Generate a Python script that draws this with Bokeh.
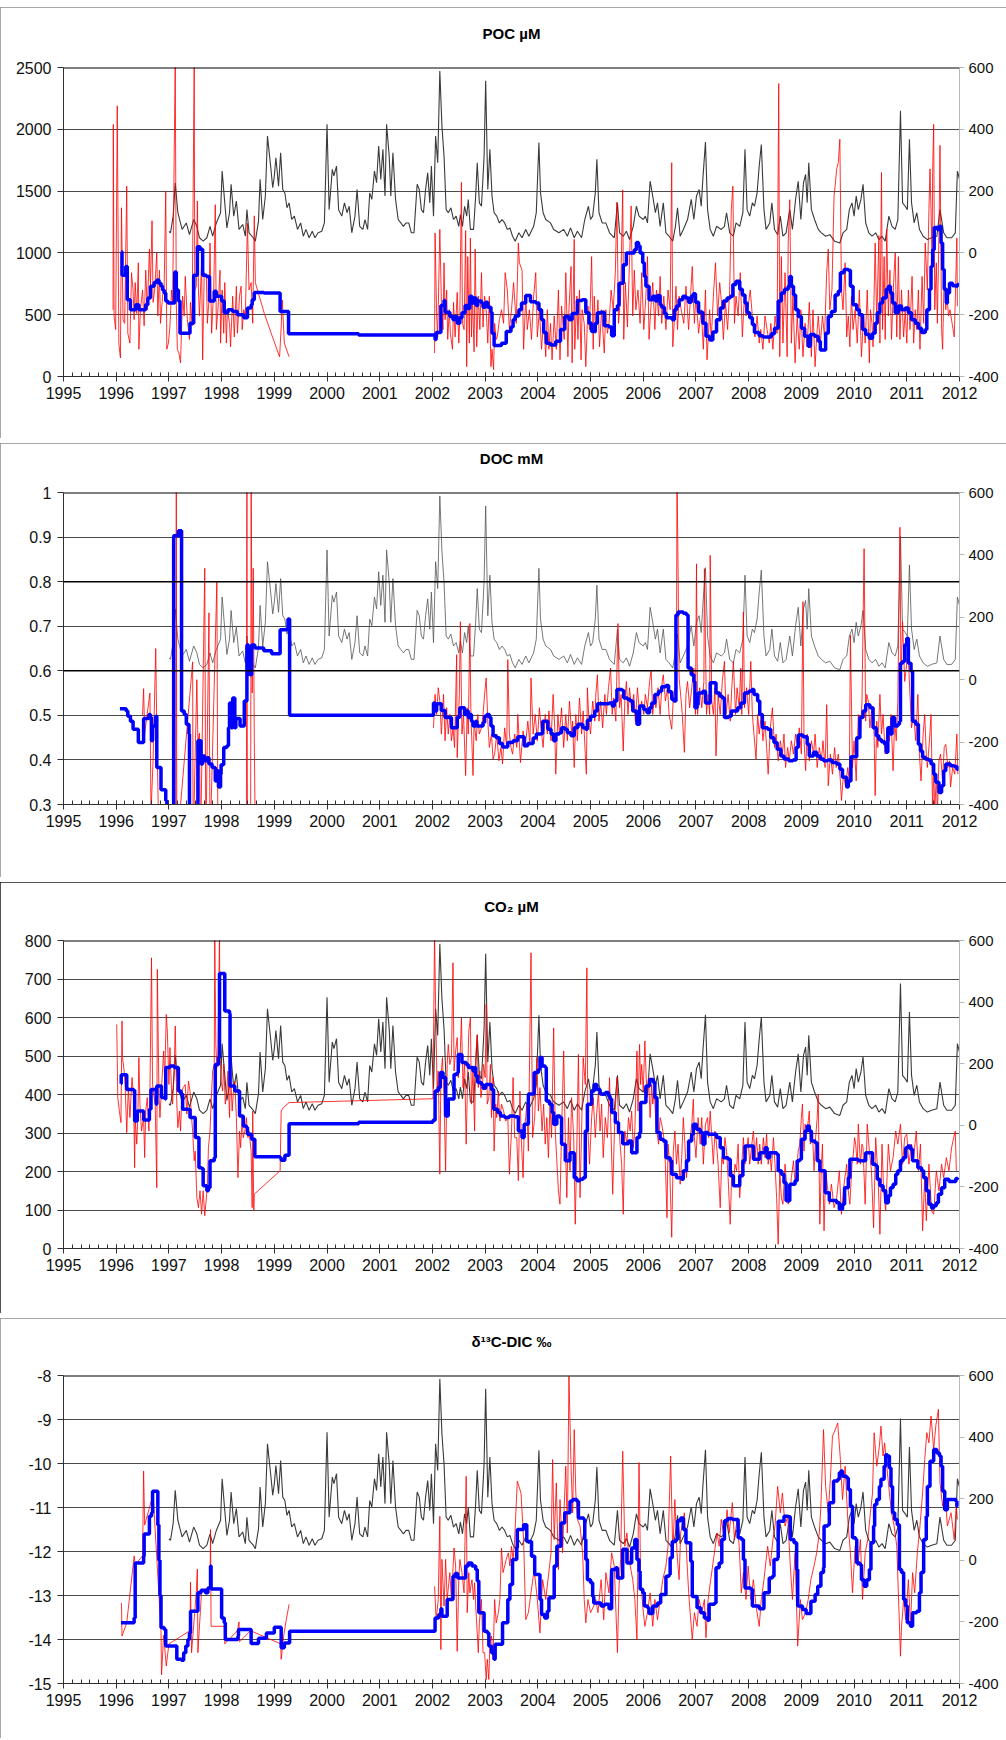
import math
from bokeh.plotting import figure
from bokeh.models import (Range1d, LinearAxis, SingleIntervalTicker, FixedTicker, Title,
                          CustomJSTickFormatter, Span, Spacer)
from bokeh.layouts import column
from bokeh.embed import file_html
from bokeh.resources import INLINE

nan = float("nan")

# ---------------- data (year, value) ----------------
# grey series on the right axis (shared by all four panels)
q_series = [
    (1997.00, 70), (1997.03, 65), (1997.08, 119), (1997.12, 227), (1997.17, 130), (1997.25, 76), (1997.33, 97),
    (1997.39, 59), (1997.47, 108), (1997.53, 86), (1997.58, 49), (1997.65, 38), (1997.72, 49), (1997.78, 86),
    (1997.83, 54), (1997.90, 97), (1997.98, 130), (1998.01, 265), (1998.06, 162), (1998.10, 81), (1998.15, 130),
    (1998.18, 222), (1998.23, 119), (1998.28, 168), (1998.33, 76), (1998.40, 92), (1998.45, 54), (1998.48, 140),
    (1998.52, 65), (1998.60, 49), (1998.64, 38), (1998.70, 103), (1998.73, 238), (1998.78, 108), (1998.83, 184),
    (1998.87, 378), (1998.93, 281), (1998.97, 211), (1999.00, 249), (1999.03, 308), (1999.08, 216), (1999.12, 324),
    (1999.16, 205), (1999.20, 194), (1999.24, 146), (1999.28, 162), (1999.33, 108), (1999.38, 119), (1999.44, 76),
    (1999.50, 97), (1999.55, 54), (1999.60, 76), (1999.66, 49), (1999.72, 70), (1999.77, 49), (1999.83, 65),
    (1999.90, 70), (1999.95, 97), (2000.00, 416), (2000.04, 140), (2000.10, 270), (2000.13, 249), (2000.18, 281),
    (2000.22, 140), (2000.28, 119), (2000.33, 162), (2000.38, 130), (2000.42, 151), (2000.47, 65), (2000.53, 119),
    (2000.57, 205), (2000.62, 86), (2000.68, 76), (2000.72, 108), (2000.77, 76), (2000.81, 194), (2000.85, 173),
    (2000.90, 265), (2000.94, 227), (2000.98, 346), (2001.02, 238), (2001.06, 335), (2001.10, 184), (2001.13, 416),
    (2001.18, 313), (2001.21, 184), (2001.25, 324), (2001.30, 173), (2001.35, 108), (2001.40, 97), (2001.45, 86),
    (2001.50, 97), (2001.55, 97), (2001.60, 65), (2001.65, 65), (2001.71, 222), (2001.75, 205), (2001.79, 140),
    (2001.83, 130), (2001.87, 205), (2001.91, 259), (2001.95, 162), (2001.98, 281), (2002.02, 119), (2002.06, 378),
    (2002.10, 292), (2002.14, 589), (2002.18, 411), (2002.22, 313), (2002.26, 140), (2002.30, 130), (2002.35, 146),
    (2002.40, 108), (2002.45, 119), (2002.50, 86), (2002.53, 124), (2002.57, 86), (2002.61, 151), (2002.65, 119),
    (2002.68, 173), (2002.72, 76), (2002.78, 76), (2002.82, 184), (2002.85, 292), (2002.89, 162), (2002.93, 151),
    (2002.98, 313), (2003.01, 557), (2003.05, 205), (2003.09, 335), (2003.13, 184), (2003.17, 130), (2003.22, 119),
    (2003.27, 97), (2003.32, 108), (2003.37, 97), (2003.42, 76), (2003.47, 81), (2003.52, 54), (2003.57, 38),
    (2003.64, 65), (2003.70, 49), (2003.77, 76), (2003.83, 54), (2003.92, 86), (2003.97, 130), (2004.02, 357),
    (2004.05, 195), (2004.10, 130), (2004.15, 108), (2004.24, 97), (2004.30, 76), (2004.40, 65), (2004.49, 76),
    (2004.56, 54), (2004.62, 81), (2004.69, 49), (2004.75, 70), (2004.83, 49), (2004.89, 108), (2004.96, 151),
    (2005.00, 108), (2005.04, 119), (2005.09, 195), (2005.12, 303), (2005.16, 130), (2005.22, 97), (2005.29, 97),
    (2005.36, 65), (2005.45, 49), (2005.51, 162), (2005.55, 65), (2005.62, 54), (2005.68, 70), (2005.74, 43),
    (2005.81, 86), (2005.87, 151), (2005.92, 119), (2006.00, 108), (2006.04, 119), (2006.08, 97), (2006.13, 232),
    (2006.18, 184), (2006.23, 130), (2006.27, 162), (2006.32, 86), (2006.38, 162), (2006.43, 65), (2006.49, 54),
    (2006.56, 38), (2006.61, 86), (2006.65, 146), (2006.70, 54), (2006.76, 76), (2006.84, 108), (2006.91, 173),
    (2006.96, 108), (2007.01, 184), (2007.06, 205), (2007.10, 151), (2007.13, 238), (2007.18, 359), (2007.22, 140),
    (2007.27, 76), (2007.33, 54), (2007.39, 86), (2007.48, 76), (2007.54, 86), (2007.58, 130), (2007.64, 65),
    (2007.71, 54), (2007.76, 97), (2007.83, 86), (2007.89, 130), (2007.93, 335), (2007.97, 140), (2008.02, 119),
    (2008.07, 162), (2008.11, 151), (2008.16, 195), (2008.20, 281), (2008.24, 351), (2008.29, 140), (2008.33, 76),
    (2008.40, 97), (2008.44, 162), (2008.49, 76), (2008.55, 59), (2008.60, 119), (2008.65, 54), (2008.71, 65),
    (2008.78, 140), (2008.83, 76), (2008.89, 173), (2008.94, 232), (2008.99, 108), (2009.04, 227), (2009.08, 254),
    (2009.11, 162), (2009.14, 292), (2009.19, 140), (2009.25, 108), (2009.32, 76), (2009.38, 65), (2009.46, 54),
    (2009.54, 59), (2009.63, 38), (2009.73, 32), (2009.79, 65), (2009.86, 76), (2009.91, 140), (2009.96, 162),
    (2010.00, 119), (2010.04, 184), (2010.08, 140), (2010.13, 173), (2010.17, 222), (2010.22, 97), (2010.28, 65),
    (2010.34, 54), (2010.41, 65), (2010.47, 43), (2010.53, 54), (2010.59, 38), (2010.66, 119), (2010.72, 86),
    (2010.78, 76), (2010.83, 108), (2010.88, 460), (2010.92, 162), (2010.97, 151), (2011.01, 140), (2011.05, 368),
    (2011.09, 162), (2011.14, 97), (2011.19, 130), (2011.24, 76), (2011.31, 54), (2011.39, 43), (2011.47, 49),
    (2011.57, 54), (2011.63, 140), (2011.70, 65), (2011.76, 49), (2011.85, 49), (2011.92, 65), (2011.96, 265),
    (2012.00, 238),
]

# POC (µM): raw values (red) and running mean (blue)
poc_raw = [
    (1995.94, 540), (1995.945, 2040), (1995.96, 490), (1995.99, 380), (1996.02, 2190), (1996.05, 270), (1996.08, 150),
    (1996.10, 1365), (1996.13, 460), (1996.16, 430), (1996.20, 1540), (1996.22, 350), (1996.26, 270), (1996.29, 840),
    (1996.32, 700), (1996.34, 460), (1996.36, 760), (1996.39, 510), (1996.42, 920), (1996.43, 220), (1996.46, 540),
    (1996.50, 700), (1996.53, 410), (1996.56, 860), (1996.59, 540), (1996.63, 1030), (1996.65, 730), (1996.68, 1260),
    (1996.70, 600), (1996.73, 700), (1996.77, 1000), (1996.79, 490), (1996.82, 860), (1996.84, 430), (1996.88, 650),
    (1996.91, 730), (1996.94, 1500), (1996.96, 220), (1996.99, 270), (1997.02, 410), (1997.05, 700), (1997.07, 600),
    (1997.12, 2550), (1997.14, 600), (1997.16, 220), (1997.19, 190), (1997.22, 110), (1997.26, 650), (1997.29, 490),
    (1997.31, 810), (1997.35, 460), (1997.39, 300), (1997.41, 600), (1997.44, 410), (1997.48, 2550), (1997.49, 700),
    (1997.52, 730), (1997.54, 1420), (1997.56, 700), (1997.58, 490), (1997.62, 920), (1997.64, 135), (1997.67, 840),
    (1997.71, 810), (1997.73, 430), (1997.76, 620), (1997.78, 1080), (1997.81, 350), (1997.85, 700), (1997.88, 1390),
    (1997.90, 380), (1997.93, 540), (1997.97, 860), (1997.98, 270), (1998.01, 700), (1998.04, 350), (1998.06, 760),
    (1998.09, 270), (1998.11, 540), (1998.15, 430), (1998.17, 240), (1998.21, 650), (1998.24, 320), (1998.28, 730),
    (1998.30, 350), (1998.34, 650), (1998.37, 730), (1998.39, 380), (1998.42, 540), (1998.45, 490), (1998.49, 1240),
    (1998.52, 700), (1998.56, 760), (1998.59, 430), (1998.62, 1300), (1998.64, 760), (1998.68, 700), (1998.81, 510),
    (1998.94, 350), (1999.10, 160), (1999.13, 400), (1999.15, 620), (1999.19, 270), (1999.28, 160), (1999.30, nan),
    (2002.04, 190), (2002.05, 1160), (2002.08, 490), (2002.10, 320), (2002.14, 1190), (2002.17, 600), (2002.20, 380),
    (2002.22, 920), (2002.24, 460), (2002.27, 700), (2002.29, 300), (2002.32, 540), (2002.34, 350), (2002.38, 220),
    (2002.40, 600), (2002.43, 320), (2002.47, 680), (2002.50, 270), (2002.52, 490), (2002.55, 1570), (2002.57, 430),
    (2002.60, 380), (2002.63, 1180), (2002.65, 80), (2002.67, 970), (2002.70, 270), (2002.72, 1120), (2002.74, 320),
    (2002.76, 650), (2002.79, 200), (2002.81, 1030), (2002.84, 240), (2002.87, 650), (2002.90, 380), (2002.93, 840),
    (2002.96, 400), (2002.99, 650), (2003.02, 540), (2003.05, 270), (2003.08, 650), (2003.11, 80), (2003.13, 220),
    (2003.16, 55), (2003.18, 430), (2003.21, 300), (2003.23, 320), (2003.27, 460), (2003.31, 540), (2003.35, 430),
    (2003.38, 840), (2003.42, 700), (2003.46, 380), (2003.50, 540), (2003.54, 760), (2003.59, 430), (2003.63, 1080),
    (2003.65, 920), (2003.70, 860), (2003.73, 220), (2003.77, 650), (2003.80, 380), (2003.84, 540), (2003.88, 300),
    (2003.92, 650), (2003.96, 840), (2003.99, 320), (2004.03, 540), (2004.07, 220), (2004.11, 460), (2004.15, 160),
    (2004.18, 540), (2004.21, 220), (2004.24, 430), (2004.27, 135), (2004.31, 490), (2004.35, 220), (2004.39, 700),
    (2004.42, 135), (2004.45, 570), (2004.50, 300), (2004.53, 840), (2004.57, 160), (2004.59, 540), (2004.63, 890),
    (2004.65, 110), (2004.69, 1110), (2004.70, 220), (2004.74, 650), (2004.76, 300), (2004.79, 700), (2004.82, 135),
    (2004.84, 540), (2004.88, 430), (2004.91, 80), (2004.95, 570), (2004.98, 380), (2005.02, 970), (2005.05, 220),
    (2005.07, 650), (2005.10, 350), (2005.14, 620), (2005.17, 240), (2005.21, 540), (2005.26, 190), (2005.29, 540),
    (2005.32, 350), (2005.35, 430), (2005.39, 700), (2005.43, 540), (2005.47, 840), (2005.50, 1410), (2005.53, 430),
    (2005.57, 650), (2005.61, 1510), (2005.63, 300), (2005.66, 760), (2005.70, 400), (2005.73, 810), (2005.77, 1380),
    (2005.80, 490), (2005.83, 860), (2005.86, 540), (2005.90, 700), (2005.94, 430), (2005.97, 840), (2006.01, 380),
    (2006.05, 650), (2006.08, 970), (2006.11, 300), (2006.15, 600), (2006.18, 760), (2006.22, 380), (2006.25, 700),
    (2006.29, 490), (2006.32, 810), (2006.35, 430), (2006.39, 650), (2006.43, 380), (2006.47, 700), (2006.51, 540),
    (2006.54, 1730), (2006.56, 240), (2006.59, 460), (2006.62, 730), (2006.65, 380), (2006.68, 650), (2006.72, 540),
    (2006.77, 430), (2006.81, 730), (2006.86, 380), (2006.89, 600), (2006.93, 890), (2006.97, 430), (2007.00, 650),
    (2007.05, 350), (2007.10, 540), (2007.14, 220), (2007.18, 700), (2007.21, 135), (2007.26, 540), (2007.29, 300),
    (2007.33, 650), (2007.37, 920), (2007.41, 490), (2007.45, 760), (2007.48, 620), (2007.52, 300), (2007.56, 600),
    (2007.60, 380), (2007.64, 700), (2007.67, 1350), (2007.70, 1540), (2007.73, 430), (2007.76, 650), (2007.80, 490),
    (2007.84, 840), (2007.88, 320), (2007.92, 650), (2007.95, 490), (2007.99, 570), (2008.03, 700), (2008.08, 430),
    (2008.12, 320), (2008.16, 490), (2008.20, 270), (2008.23, 380), (2008.27, 220), (2008.31, 490), (2008.35, 380),
    (2008.39, 270), (2008.42, 430), (2008.46, 220), (2008.50, 490), (2008.54, 350), (2008.57, 2370), (2008.59, 160),
    (2008.62, 970), (2008.65, 270), (2008.69, 840), (2008.73, 160), (2008.75, 1080), (2008.78, 1430), (2008.81, 270),
    (2008.84, 650), (2008.88, 110), (2008.92, 490), (2008.96, 220), (2008.99, 540), (2009.03, 160), (2009.07, 430),
    (2009.11, 240), (2009.15, 600), (2009.19, 160), (2009.22, 540), (2009.26, 80), (2009.29, 320), (2009.32, 490),
    (2009.36, 270), (2009.40, 490), (2009.44, 320), (2009.48, 840), (2009.51, 1030), (2009.54, 540), (2009.58, 700),
    (2009.62, 1460), (2009.64, 1540), (2009.67, 1680), (2009.70, 1730), (2009.73, 1920), (2009.76, 700), (2009.79, 540),
    (2009.83, 920), (2009.86, 320), (2009.89, 490), (2009.92, 240), (2009.95, 650), (2009.98, 380), (2010.02, 540),
    (2010.06, 270), (2010.10, 700), (2010.14, 160), (2010.18, 490), (2010.21, 270), (2010.25, 700), (2010.29, 110),
    (2010.31, 540), (2010.34, 430), (2010.36, 240), (2010.40, 1080), (2010.43, 430), (2010.47, 1140), (2010.49, 270),
    (2010.52, 1650), (2010.54, 380), (2010.57, 970), (2010.59, 300), (2010.62, 1190), (2010.65, 490), (2010.68, 860),
    (2010.71, 300), (2010.75, 760), (2010.78, 1000), (2010.81, 320), (2010.84, 970), (2010.87, 300), (2010.90, 700),
    (2010.94, 320), (2010.97, 540), (2011.00, 270), (2011.03, 700), (2011.06, 380), (2011.10, 810), (2011.13, 270),
    (2011.16, 540), (2011.19, 380), (2011.22, 700), (2011.25, 220), (2011.29, 810), (2011.32, 430), (2011.35, 1080),
    (2011.39, 700), (2011.42, 1350), (2011.44, 1680), (2011.48, 970), (2011.49, 1650), (2011.51, 2040), (2011.53, 540),
    (2011.56, 920), (2011.58, 430), (2011.61, 1140), (2011.63, 1870), (2011.66, 380), (2011.68, 220), (2011.71, 840),
    (2011.74, 540), (2011.76, 700), (2011.79, 490), (2011.82, 540), (2011.86, 430), (2011.90, 320), (2011.92, 620),
    (2011.95, 1120), (2011.96, 570),
]
poc_avg = [
    (1996.10, 1010), (1996.11, 820), (1996.18, 890), (1996.21, 620), (1996.27, 540), (1996.37, 580), (1996.43, 540),
    (1996.56, 580), (1996.60, 635), (1996.65, 730), (1996.72, 760), (1996.77, 780), (1996.81, 755), (1996.85, 730),
    (1996.88, 700), (1996.91, 675), (1996.94, 610), (1996.98, 595), (1997.11, 845), (1997.14, 700), (1997.18, 610),
    (1997.21, 350), (1997.40, 430), (1997.47, 820), (1997.54, 1050), (1997.59, 1030), (1997.64, 820), (1997.71, 810),
    (1997.77, 610), (1997.86, 690), (1997.90, 650), (1998.00, 610), (1998.05, 515), (1998.12, 540), (1998.21, 525),
    (1998.30, 500), (1998.42, 475), (1998.49, 555), (1998.56, 580), (1998.58, 620), (1998.62, 680), (1998.80, 675),
    (1999.11, 525), (1999.27, 345), (2000.60, 335), (2002.04, 325), (2002.05, 300), (2002.07, 355), (2002.16, 575),
    (2002.22, 615), (2002.24, 520), (2002.33, 485), (2002.39, 460), (2002.42, 485), (2002.47, 430), (2002.52, 475),
    (2002.56, 515), (2002.62, 575), (2002.67, 550), (2002.71, 650), (2002.75, 595), (2002.79, 635), (2002.83, 575),
    (2002.86, 610), (2002.93, 595), (2002.96, 560), (2003.01, 600), (2003.05, 560), (2003.11, 520), (2003.13, 350),
    (2003.17, 250), (2003.31, 270), (2003.40, 365), (2003.49, 400), (2003.53, 460), (2003.57, 490), (2003.64, 540),
    (2003.69, 595), (2003.77, 655), (2003.86, 605), (2003.96, 595), (2004.02, 540), (2004.07, 460), (2004.11, 355),
    (2004.16, 270), (2004.24, 255), (2004.34, 285), (2004.43, 380), (2004.51, 485), (2004.59, 460), (2004.65, 510),
    (2004.75, 615), (2004.84, 620), (2004.91, 515), (2004.97, 430), (2005.02, 365), (2005.09, 430), (2005.13, 515),
    (2005.19, 520), (2005.26, 410), (2005.35, 400), (2005.40, 330), (2005.45, 540), (2005.51, 575), (2005.54, 755),
    (2005.62, 905), (2005.68, 1000), (2005.83, 1025), (2005.87, 1085), (2005.91, 1055), (2005.94, 1000),
    (2005.99, 920), (2006.02, 810), (2006.05, 730), (2006.11, 620), (2006.18, 650), (2006.23, 610), (2006.27, 655),
    (2006.32, 580), (2006.35, 560), (2006.40, 510), (2006.44, 475), (2006.55, 460), (2006.59, 540), (2006.63, 570),
    (2006.68, 620), (2006.75, 650), (2006.81, 635), (2006.86, 600), (2006.91, 650), (2006.95, 670), (2006.99, 600),
    (2007.05, 520), (2007.13, 430), (2007.19, 325), (2007.26, 295), (2007.32, 360), (2007.39, 460), (2007.46, 555),
    (2007.52, 610), (2007.59, 635), (2007.65, 650), (2007.70, 745), (2007.76, 770), (2007.83, 705), (2007.88, 660),
    (2007.93, 595), (2007.97, 515), (2008.02, 475), (2008.07, 420), (2008.11, 355), (2008.20, 330), (2008.27, 320),
    (2008.43, 345), (2008.49, 390), (2008.56, 610), (2008.62, 675), (2008.68, 705), (2008.75, 730), (2008.78, 810),
    (2008.81, 730), (2008.85, 660), (2008.89, 540), (2008.94, 485), (2009.00, 390), (2009.06, 325), (2009.13, 245),
    (2009.17, 340), (2009.25, 325), (2009.32, 285), (2009.36, 215), (2009.46, 350), (2009.51, 485), (2009.57, 525),
    (2009.64, 660), (2009.70, 690), (2009.74, 840), (2009.81, 865), (2009.89, 860), (2009.93, 730), (2009.98, 580),
    (2010.05, 540), (2010.10, 500), (2010.16, 380), (2010.22, 340), (2010.29, 310), (2010.35, 350), (2010.40, 430),
    (2010.44, 515), (2010.49, 595), (2010.54, 635), (2010.61, 705), (2010.65, 730), (2010.69, 675), (2010.73, 595),
    (2010.78, 515), (2010.84, 570), (2010.90, 540), (2010.97, 555), (2011.03, 515), (2011.09, 460), (2011.16, 430),
    (2011.22, 390), (2011.28, 355), (2011.35, 380), (2011.38, 540), (2011.43, 705), (2011.46, 890), (2011.49, 1025),
    (2011.52, 1205), (2011.58, 1190), (2011.62, 1215), (2011.65, 1080), (2011.68, 865), (2011.71, 705),
    (2011.75, 595), (2011.77, 675), (2011.81, 755), (2011.87, 735), (2011.94, 730), (2011.96, 745), (2011.98, 740),
]

# DOC (mM)
doc_raw = [
    (1996.50, 0.50), (1996.52, 0.56), (1996.54, 0.46), (1996.64, 0.55), (1996.66, 0.28), (1996.70, 0.40),
    (1996.75, 0.65), (1996.77, 0.47), (1996.80, 0.28), (1997.13, 0.20), (1997.14, 1.05), (1997.15, 0.20),
    (1997.45, 0.62), (1997.46, 0.20), (1997.53, 0.58), (1997.55, 0.44), (1997.58, 0.46), (1997.60, 0.20),
    (1997.68, 0.83), (1997.70, 0.20), (1997.76, 0.73), (1997.78, 0.20), (1997.91, 0.80), (1997.93, 0.20),
    (1998.47, 0.20), (1998.48, 1.05), (1998.49, 0.20), (1998.55, 0.20), (1998.56, 1.05), (1998.58, 0.55),
    (1998.60, 0.83), (1998.62, 0.45), (1998.64, 0.20), (1998.70, nan),
    (2002.02, 0.472), (2002.05, 0.547), (2002.08, 0.502), (2002.11, 0.562), (2002.14, 0.532), (2002.17, 0.458),
    (2002.21, 0.547), (2002.24, 0.443), (2002.27, 0.517), (2002.30, 0.458), (2002.33, 0.502), (2002.36, 0.443),
    (2002.39, 0.472), (2002.42, 0.428), (2002.46, 0.636), (2002.47, 0.405), (2002.51, 0.547), (2002.53, 0.710),
    (2002.56, 0.458), (2002.59, 0.502), (2002.63, 0.365), (2002.66, 0.517), (2002.68, 0.458), (2002.71, 0.706),
    (2002.73, 0.502), (2002.77, 0.365), (2002.79, 0.487), (2002.83, 0.443), (2002.86, 0.502), (2002.89, 0.458),
    (2002.93, 0.472), (2002.96, 0.502), (2002.99, 0.547), (2003.02, 0.584), (2003.05, 0.487), (2003.08, 0.428),
    (2003.12, 0.458), (2003.15, 0.402), (2003.18, 0.413), (2003.22, 0.458), (2003.26, 0.398), (2003.30, 0.428),
    (2003.33, 0.391), (2003.37, 0.472), (2003.41, 0.428), (2003.43, 0.625), (2003.46, 0.458), (2003.49, 0.428),
    (2003.52, 0.413), (2003.56, 0.458), (2003.60, 0.428), (2003.62, 0.502), (2003.67, 0.394), (2003.72, 0.465),
    (2003.76, 0.428), (2003.81, 0.487), (2003.85, 0.435), (2003.87, 0.584), (2003.91, 0.458), (2003.95, 0.502),
    (2003.99, 0.443), (2004.03, 0.517), (2004.06, 0.472), (2004.10, 0.428), (2004.14, 0.502), (2004.18, 0.458),
    (2004.21, 0.510), (2004.25, 0.443), (2004.29, 0.547), (2004.32, 0.472), (2004.34, 0.368), (2004.38, 0.502),
    (2004.41, 0.458), (2004.45, 0.517), (2004.49, 0.428), (2004.53, 0.502), (2004.56, 0.443), (2004.60, 0.532),
    (2004.64, 0.458), (2004.66, 0.487), (2004.69, 0.383), (2004.72, 0.502), (2004.75, 0.443), (2004.79, 0.539),
    (2004.83, 0.458), (2004.86, 0.510), (2004.90, 0.413), (2004.92, 0.368), (2004.94, 0.562), (2004.97, 0.487),
    (2005.00, 0.458), (2005.04, 0.532), (2005.08, 0.487), (2005.10, 0.547), (2005.13, 0.591), (2005.16, 0.487),
    (2005.19, 0.532), (2005.23, 0.472), (2005.27, 0.547), (2005.30, 0.502), (2005.34, 0.562), (2005.38, 0.606),
    (2005.41, 0.502), (2005.44, 0.539), (2005.48, 0.487), (2005.52, 0.706), (2005.55, 0.517), (2005.58, 0.547),
    (2005.62, 0.420), (2005.65, 0.532), (2005.68, 0.576), (2005.71, 0.502), (2005.74, 0.562), (2005.78, 0.510),
    (2005.82, 0.547), (2005.85, 0.487), (2005.89, 0.562), (2005.93, 0.502), (2005.97, 0.532), (2006.01, 0.502),
    (2006.04, 0.547), (2006.08, 0.517), (2006.12, 0.576), (2006.15, 0.602), (2006.18, 0.502), (2006.21, 0.547),
    (2006.24, 0.517), (2006.28, 0.562), (2006.32, 0.502), (2006.36, 0.576), (2006.38, 0.591), (2006.42, 0.532),
    (2006.46, 0.562), (2006.49, 0.502), (2006.54, 0.469), (2006.57, 0.539), (2006.61, 0.562), (2006.63, 0.606),
    (2006.64, 1.05), (2006.66, 0.833), (2006.68, 0.584), (2006.72, 0.532), (2006.74, 0.502), (2006.78, 0.417),
    (2006.81, 0.547), (2006.84, 0.576), (2006.88, 0.517), (2006.92, 0.562), (2006.96, 0.606), (2006.99, 0.502),
    (2007.01, 0.840), (2007.03, 0.502), (2007.07, 0.562), (2007.11, 0.517), (2007.15, 0.576), (2007.16, 0.829),
    (2007.20, 0.502), (2007.23, 0.547), (2007.26, 0.502), (2007.27, 0.859), (2007.30, 0.532), (2007.33, 0.502),
    (2007.36, 0.562), (2007.38, 0.409), (2007.42, 0.547), (2007.46, 0.502), (2007.50, 0.576), (2007.54, 0.621),
    (2007.57, 0.502), (2007.61, 0.547), (2007.65, 0.487), (2007.68, 0.562), (2007.71, 0.621), (2007.75, 0.502),
    (2007.78, 0.562), (2007.82, 0.517), (2007.85, 0.606), (2007.87, 0.502), (2007.90, 0.732), (2007.92, 0.517),
    (2007.96, 0.562), (2008.00, 0.502), (2008.04, 0.621), (2008.07, 0.502), (2008.10, 0.458), (2008.14, 0.402),
    (2008.17, 0.502), (2008.20, 0.458), (2008.24, 0.502), (2008.27, 0.443), (2008.31, 0.487), (2008.34, 0.428),
    (2008.37, 0.368), (2008.41, 0.472), (2008.45, 0.517), (2008.49, 0.428), (2008.52, 0.458), (2008.56, 0.398),
    (2008.60, 0.443), (2008.64, 0.413), (2008.67, 0.458), (2008.70, 0.383), (2008.74, 0.428), (2008.77, 0.398),
    (2008.81, 0.443), (2008.85, 0.413), (2008.89, 0.458), (2008.93, 0.428), (2008.96, 0.472), (2009.00, 0.413),
    (2009.03, 0.755), (2009.05, 0.443), (2009.08, 0.376), (2009.11, 0.458), (2009.15, 0.398), (2009.19, 0.443),
    (2009.23, 0.413), (2009.26, 0.458), (2009.30, 0.383), (2009.34, 0.428), (2009.38, 0.398), (2009.41, 0.443),
    (2009.45, 0.383), (2009.48, 0.524), (2009.51, 0.342), (2009.55, 0.413), (2009.59, 0.368), (2009.63, 0.428),
    (2009.66, 0.383), (2009.70, 0.413), (2009.74, 0.353), (2009.76, 0.309), (2009.80, 0.368), (2009.84, 0.339),
    (2009.88, 0.383), (2009.91, 0.353), (2009.93, 0.680), (2009.97, 0.383), (2010.00, 0.443), (2010.04, 0.353),
    (2010.08, 0.502), (2010.12, 0.458), (2010.15, 0.532), (2010.19, 0.874), (2010.22, 0.487), (2010.24, 0.547),
    (2010.27, 0.532), (2010.30, 0.472), (2010.34, 0.517), (2010.38, 0.458), (2010.40, 0.320), (2010.43, 0.487),
    (2010.45, 0.428), (2010.49, 0.547), (2010.52, 0.458), (2010.55, 0.502), (2010.59, 0.413), (2010.63, 0.472),
    (2010.67, 0.443), (2010.70, 0.502), (2010.74, 0.376), (2010.77, 0.487), (2010.80, 0.443), (2010.83, 0.532),
    (2010.87, 0.922), (2010.89, 0.576), (2010.92, 0.710), (2010.96, 0.576), (2010.99, 0.606), (2011.02, 0.651),
    (2011.06, 0.547), (2011.09, 0.472), (2011.13, 0.502), (2011.17, 0.443), (2011.21, 0.547), (2011.24, 0.413),
    (2011.27, 0.353), (2011.31, 0.458), (2011.34, 0.502), (2011.37, 0.413), (2011.39, 0.383), (2011.43, 0.443),
    (2011.46, 0.502), (2011.49, 0.28), (2011.51, 0.383), (2011.53, 0.28), (2011.56, 0.368), (2011.58, 0.28),
    (2011.61, 0.398), (2011.64, 0.413), (2011.68, 0.353), (2011.71, 0.428), (2011.74, 0.435), (2011.78, 0.383),
    (2011.81, 0.398), (2011.83, 0.339), (2011.87, 0.383), (2011.91, 0.368), (2011.95, 0.458), (2011.97, 0.368),
]
doc_avg = [
    (1996.07, 0.515), (1996.19, 0.510), (1996.22, 0.498), (1996.27, 0.487), (1996.32, 0.469), (1996.42, 0.439),
    (1996.52, 0.493), (1996.62, 0.502), (1996.65, 0.495), (1996.67, 0.443), (1996.69, 0.476), (1996.75, 0.498),
    (1996.77, 0.383), (1996.85, 0.333), (1996.94, 0.309), (1996.96, 0.20), (1997.09, 0.903), (1997.18, 0.914),
    (1997.24, 0.510), (1997.29, 0.502), (1997.33, 0.480), (1997.38, 0.458), (1997.39, 0.20), (1997.55, 0.443),
    (1997.61, 0.391), (1997.64, 0.409), (1997.68, 0.398), (1997.73, 0.405), (1997.76, 0.391), (1997.82, 0.383),
    (1997.88, 0.353), (1997.91, 0.376), (1997.94, 0.339), (1997.98, 0.368), (1997.99, 0.389), (1998.04, 0.428),
    (1998.10, 0.432), (1998.13, 0.472), (1998.15, 0.528), (1998.18, 0.472), (1998.21, 0.539), (1998.25, 0.472),
    (1998.27, 0.493), (1998.35, 0.476), (1998.43, 0.532), (1998.48, 0.658), (1998.51, 0.621), (1998.54, 0.591),
    (1998.57, 0.658), (1998.63, 0.651), (1998.80, 0.645), (1998.95, 0.638), (1999.11, 0.692), (1999.26, 0.716),
    (1999.29, 0.500), (2002.02, 0.528), (2002.05, 0.510), (2002.08, 0.526), (2002.17, 0.511), (2002.24, 0.495),
    (2002.36, 0.472), (2002.47, 0.496), (2002.52, 0.517), (2002.61, 0.502), (2002.64, 0.510), (2002.68, 0.495),
    (2002.71, 0.502), (2002.74, 0.487), (2002.77, 0.476), (2002.82, 0.487), (2002.84, 0.476), (2002.96, 0.484),
    (2002.99, 0.498), (2003.03, 0.502), (2003.08, 0.495), (2003.11, 0.476), (2003.15, 0.454), (2003.21, 0.450),
    (2003.27, 0.437), (2003.33, 0.429), (2003.43, 0.439), (2003.53, 0.443), (2003.62, 0.452), (2003.74, 0.432),
    (2003.81, 0.437), (2003.91, 0.449), (2003.97, 0.458), (2004.05, 0.459), (2004.09, 0.487), (2004.19, 0.469),
    (2004.25, 0.458), (2004.30, 0.443), (2004.34, 0.458), (2004.41, 0.461), (2004.45, 0.472), (2004.51, 0.469),
    (2004.56, 0.461), (2004.63, 0.454), (2004.69, 0.472), (2004.76, 0.480), (2004.85, 0.472), (2004.91, 0.469),
    (2004.94, 0.489), (2005.00, 0.498), (2005.08, 0.510), (2005.13, 0.526), (2005.35, 0.528), (2005.41, 0.521),
    (2005.45, 0.532), (2005.50, 0.558), (2005.60, 0.556), (2005.63, 0.539), (2005.70, 0.536), (2005.75, 0.532),
    (2005.80, 0.510), (2005.87, 0.502), (2005.88, 0.480), (2005.93, 0.521), (2006.01, 0.513), (2006.07, 0.506),
    (2006.12, 0.517), (2006.16, 0.528), (2006.22, 0.547), (2006.29, 0.554), (2006.35, 0.564), (2006.43, 0.567),
    (2006.48, 0.553), (2006.54, 0.536), (2006.58, 0.532), (2006.62, 0.725), (2006.66, 0.732), (2006.76, 0.729),
    (2006.82, 0.725), (2006.85, 0.606), (2006.91, 0.591), (2006.96, 0.576), (2006.98, 0.517), (2007.02, 0.524),
    (2007.04, 0.550), (2007.13, 0.554), (2007.18, 0.528), (2007.27, 0.573), (2007.38, 0.550), (2007.45, 0.543),
    (2007.50, 0.539), (2007.54, 0.495), (2007.62, 0.498), (2007.67, 0.510), (2007.79, 0.517), (2007.85, 0.528),
    (2007.92, 0.550), (2008.00, 0.554), (2008.06, 0.558), (2008.10, 0.547), (2008.17, 0.532), (2008.21, 0.502),
    (2008.26, 0.472), (2008.36, 0.469), (2008.42, 0.450), (2008.48, 0.439), (2008.54, 0.424), (2008.61, 0.409),
    (2008.67, 0.402), (2008.76, 0.398), (2008.84, 0.400), (2008.90, 0.428), (2008.94, 0.456), (2009.03, 0.452),
    (2009.11, 0.435), (2009.15, 0.409), (2009.23, 0.417), (2009.29, 0.409), (2009.36, 0.402), (2009.42, 0.398),
    (2009.50, 0.400), (2009.58, 0.394), (2009.67, 0.391), (2009.73, 0.379), (2009.78, 0.361), (2009.86, 0.339),
    (2009.89, 0.353), (2009.94, 0.407), (2010.05, 0.450), (2010.11, 0.495), (2010.17, 0.510), (2010.22, 0.524),
    (2010.30, 0.517), (2010.36, 0.472), (2010.42, 0.454), (2010.47, 0.446), (2010.52, 0.441), (2010.58, 0.435),
    (2010.61, 0.417), (2010.64, 0.472), (2010.69, 0.458), (2010.72, 0.495), (2010.77, 0.476), (2010.83, 0.480),
    (2010.86, 0.487), (2010.88, 0.617), (2010.92, 0.621), (2010.96, 0.658), (2011.00, 0.673), (2011.03, 0.617),
    (2011.08, 0.599), (2011.11, 0.487), (2011.17, 0.480), (2011.22, 0.435), (2011.26, 0.420), (2011.30, 0.406),
    (2011.35, 0.402), (2011.41, 0.400), (2011.46, 0.391), (2011.51, 0.368), (2011.55, 0.350), (2011.61, 0.327),
    (2011.66, 0.342), (2011.70, 0.376), (2011.74, 0.391), (2011.83, 0.387), (2011.90, 0.385), (2011.95, 0.379),
    (2011.98, 0.379),
]

# CO2 (µM)
co2_raw = [
    (1996.01, 582), (1996.03, 392), (1996.06, 357), (1996.09, 327), (1996.11, 591), (1996.12, 496), (1996.15, 461),
    (1996.17, 418), (1996.20, 301), (1996.23, 418), (1996.26, 340), (1996.30, 444), (1996.33, 392), (1996.35, 210),
    (1996.36, 340), (1996.39, 271), (1996.41, 340), (1996.43, 496), (1996.45, 375), (1996.48, 305), (1996.52, 340),
    (1996.54, 236), (1996.56, 357), (1996.59, 392), (1996.62, 305), (1996.64, 409), (1996.67, 755), (1996.69, 426),
    (1996.72, 392), (1996.74, 375), (1996.77, 158), (1996.78, 725), (1996.81, 409), (1996.83, 340), (1996.86, 418),
    (1996.90, 513), (1996.92, 435), (1996.95, 608), (1996.97, 565), (1997.00, 426), (1997.02, 522), (1997.05, 409),
    (1997.07, 375), (1997.10, 461), (1997.12, 578), (1997.15, 375), (1997.17, 314), (1997.20, 357), (1997.22, 305),
    (1997.25, 409), (1997.27, 418), (1997.31, 426), (1997.34, 349), (1997.37, 435), (1997.40, 409), (1997.43, 340),
    (1997.45, 305), (1997.48, 228), (1997.50, 253), (1997.53, 132), (1997.56, 106), (1997.59, 150), (1997.62, 89),
    (1997.65, 150), (1997.68, 85), (1997.70, 115), (1997.73, 167), (1997.75, 262), (1997.78, 305), (1997.80, 375),
    (1997.83, 461), (1997.86, 478), (1997.87, 820), (1997.89, 530), (1997.91, 470), (1997.93, 496), (1997.96, 820),
    (1997.97, 530), (1997.99, 435), (1998.02, 409), (1998.04, 478), (1998.07, 375), (1998.10, 409), (1998.12, 461),
    (1998.15, 340), (1998.17, 461), (1998.20, 357), (1998.22, 401), (1998.25, 435), (1998.28, 340), (1998.31, 184),
    (1998.34, 305), (1998.36, 262), (1998.39, 340), (1998.41, 288), (1998.44, 305), (1998.47, 340), (1998.50, 288),
    (1998.52, 305), (1998.56, 253), (1998.58, 106), (1998.59, 357), (1998.61, 98), (1998.62, 141), (1999.11, 202),
    (1999.13, 357), (1999.17, 366), (1999.28, 379), (2002.01, 389), (2002.04, 820), (2002.06, 625), (2002.09, 409),
    (2002.11, 461), (2002.14, 193), (2002.16, 444), (2002.19, 496), (2002.22, 392), (2002.25, 202), (2002.28, 478),
    (2002.30, 530), (2002.33, 478), (2002.36, 496), (2002.39, 742), (2002.41, 461), (2002.44, 513), (2002.47, 548),
    (2002.49, 444), (2002.52, 478), (2002.55, 599), (2002.58, 418), (2002.61, 487), (2002.64, 271), (2002.67, 461),
    (2002.69, 565), (2002.72, 599), (2002.74, 375), (2002.77, 461), (2002.80, 305), (2002.82, 496), (2002.85, 556),
    (2002.87, 418), (2002.90, 461), (2002.92, 392), (2002.95, 426), (2002.97, 478), (2003.00, 444), (2003.02, 634),
    (2003.04, 375), (2003.07, 392), (2003.10, 478), (2003.12, 340), (2003.15, 444), (2003.17, 253), (2003.20, 375),
    (2003.22, 340), (2003.25, 409), (2003.28, 331), (2003.31, 375), (2003.35, 357), (2003.39, 331), (2003.43, 340),
    (2003.46, 193), (2003.50, 305), (2003.53, 444), (2003.56, 288), (2003.60, 288), (2003.63, 176), (2003.66, 409),
    (2003.69, 271), (2003.72, 184), (2003.74, 305), (2003.77, 340), (2003.79, 375), (2003.82, 253), (2003.87, 768),
    (2003.90, 288), (2003.94, 340), (2003.98, 496), (2004.01, 357), (2004.04, 418), (2004.08, 305), (2004.11, 375),
    (2004.14, 271), (2004.17, 340), (2004.20, 236), (2004.23, 375), (2004.26, 288), (2004.30, 573), (2004.33, 305),
    (2004.36, 228), (2004.39, 150), (2004.42, 115), (2004.45, 305), (2004.49, 513), (2004.52, 288), (2004.55, 132),
    (2004.58, 340), (2004.61, 202), (2004.64, 392), (2004.68, 288), (2004.71, 63), (2004.74, 271), (2004.77, 504),
    (2004.80, 132), (2004.83, 305), (2004.86, 496), (2004.90, 426), (2004.93, 729), (2004.95, 305), (2004.98, 219),
    (2005.02, 340), (2005.05, 392), (2005.09, 288), (2005.12, 357), (2005.15, 409), (2005.18, 305), (2005.21, 375),
    (2005.24, 236), (2005.28, 340), (2005.32, 288), (2005.36, 444), (2005.38, 340), (2005.42, 141), (2005.46, 340),
    (2005.50, 444), (2005.53, 340), (2005.56, 271), (2005.59, 219), (2005.62, 89), (2005.65, 305), (2005.69, 271),
    (2005.72, 340), (2005.75, 305), (2005.78, 357), (2005.81, 262), (2005.84, 305), (2005.88, 513), (2005.90, 357),
    (2005.93, 530), (2005.95, 426), (2005.97, 478), (2006.00, 409), (2006.03, 539), (2006.07, 392), (2006.10, 444),
    (2006.13, 340), (2006.16, 426), (2006.18, 375), (2006.21, 409), (2006.24, 323), (2006.29, 271), (2006.32, 340),
    (2006.35, 323), (2006.39, 288), (2006.42, 219), (2006.45, 80), (2006.47, 271), (2006.50, 219), (2006.54, 29),
    (2006.57, 253), (2006.60, 305), (2006.63, 219), (2006.66, 271), (2006.70, 167), (2006.73, 236), (2006.76, 340),
    (2006.79, 271), (2006.82, 184), (2006.86, 253), (2006.89, 288), (2006.92, 323), (2006.95, 388), (2006.97, 288),
    (2007.00, 236), (2007.04, 340), (2007.08, 271), (2007.11, 340), (2007.14, 219), (2007.18, 323), (2007.22, 340),
    (2007.24, 288), (2007.27, 357), (2007.30, 288), (2007.33, 219), (2007.36, 305), (2007.39, 271), (2007.42, 219),
    (2007.46, 106), (2007.49, 236), (2007.52, 219), (2007.55, 288), (2007.58, 253), (2007.61, 184), (2007.65, 63),
    (2007.68, 202), (2007.71, 167), (2007.74, 219), (2007.77, 202), (2007.80, 271), (2007.83, 132), (2007.87, 219),
    (2007.90, 288), (2007.93, 219), (2007.96, 253), (2007.99, 288), (2008.02, 219), (2008.06, 271), (2008.09, 305),
    (2008.12, 236), (2008.15, 288), (2008.18, 219), (2008.21, 271), (2008.24, 219), (2008.28, 288), (2008.31, 236),
    (2008.34, 297), (2008.37, 219), (2008.40, 253), (2008.43, 202), (2008.47, 288), (2008.50, 219), (2008.53, 132),
    (2008.56, 11), (2008.59, 202), (2008.62, 132), (2008.65, 115), (2008.69, 219), (2008.72, 167), (2008.75, 115),
    (2008.78, 132), (2008.81, 184), (2008.85, 228), (2008.88, 167), (2008.91, 202), (2008.94, 253), (2008.97, 271),
    (2009.00, 340), (2009.02, 375), (2009.05, 253), (2009.07, 323), (2009.11, 305), (2009.15, 357), (2009.17, 271),
    (2009.21, 305), (2009.24, 202), (2009.27, 288), (2009.30, 340), (2009.32, 401), (2009.35, 63), (2009.38, 219),
    (2009.40, 271), (2009.43, 46), (2009.46, 202), (2009.49, 167), (2009.53, 115), (2009.57, 167), (2009.62, 106),
    (2009.67, 132), (2009.72, 202), (2009.76, 89), (2009.81, 167), (2009.86, 219), (2009.89, 150), (2009.92, 115),
    (2009.96, 219), (2009.98, 236), (2010.01, 288), (2010.03, 271), (2010.06, 219), (2010.08, 323), (2010.12, 219),
    (2010.15, 271), (2010.17, 262), (2010.21, 115), (2010.25, 323), (2010.29, 253), (2010.33, 202), (2010.37, 54),
    (2010.41, 288), (2010.44, 219), (2010.46, 167), (2010.49, 37), (2010.53, 271), (2010.56, 150), (2010.60, 98),
    (2010.65, 271), (2010.69, 202), (2010.74, 236), (2010.79, 305), (2010.83, 271), (2010.88, 323), (2010.92, 219),
    (2010.96, 288), (2011.00, 297), (2011.04, 219), (2011.09, 271), (2011.13, 236), (2011.18, 305), (2011.22, 202),
    (2011.26, 271), (2011.30, 46), (2011.34, 184), (2011.37, 72), (2011.42, 219), (2011.47, 98), (2011.51, 89),
    (2011.56, 202), (2011.61, 150), (2011.66, 219), (2011.70, 184), (2011.75, 236), (2011.80, 202), (2011.85, 262),
    (2011.89, 288), (2011.92, 305), (2011.94, 202),
]
co2_avg = [
    (1996.09, 428), (1996.095, 451), (1996.20, 413), (1996.33, 411), (1996.35, 331), (1996.40, 357), (1996.52, 334),
    (1996.63, 362), (1996.66, 413), (1996.76, 375), (1996.77, 422), (1996.86, 392), (1996.93, 388), (1996.94, 470),
    (1997.02, 474), (1997.10, 470), (1997.18, 409), (1997.23, 401), (1997.26, 362), (1997.40, 340), (1997.50, 288),
    (1997.57, 210), (1997.62, 208), (1997.65, 163), (1997.72, 150), (1997.75, 158), (1997.78, 228), (1997.86, 236),
    (1997.88, 478), (1997.94, 496), (1997.96, 714), (1998.06, 617), (1998.15, 610), (1998.16, 422), (1998.25, 409),
    (1998.34, 344), (1998.41, 318), (1998.47, 314), (1998.49, 297), (1998.57, 284), (1998.63, 238), (1999.11, 236),
    (1999.13, 229), (1999.20, 242), (1999.28, 324), (2000.60, 328), (2002.01, 333), (2002.05, 409), (2002.11, 418),
    (2002.15, 457), (2002.20, 444), (2002.25, 344), (2002.30, 388), (2002.41, 452), (2002.47, 457), (2002.49, 504),
    (2002.56, 483), (2002.64, 478), (2002.68, 470), (2002.77, 461), (2002.80, 470), (2002.82, 448), (2002.86, 431),
    (2002.93, 426), (2002.96, 416), (2003.01, 426), (2003.12, 413), (2003.16, 362), (2003.24, 353), (2003.29, 344),
    (2003.37, 340), (2003.46, 344), (2003.56, 342), (2003.63, 305), (2003.70, 288), (2003.74, 323), (2003.82, 401),
    (2003.93, 457), (2004.01, 465), (2004.04, 496), (2004.08, 474), (2004.14, 470), (2004.16, 383), (2004.22, 375),
    (2004.27, 353), (2004.30, 323), (2004.36, 344), (2004.42, 340), (2004.45, 271), (2004.52, 228), (2004.61, 249),
    (2004.69, 184), (2004.74, 176), (2004.80, 180), (2004.86, 184), (2004.90, 305), (2004.94, 375), (2005.02, 409),
    (2005.07, 426), (2005.12, 413), (2005.18, 401), (2005.28, 405), (2005.34, 396), (2005.37, 388), (2005.40, 353),
    (2005.47, 327), (2005.53, 301), (2005.61, 272), (2005.72, 279), (2005.78, 249), (2005.88, 288), (2005.93, 301),
    (2005.95, 379), (2006.05, 422), (2006.12, 439), (2006.19, 431), (2006.22, 392), (2006.26, 301), (2006.32, 284),
    (2006.38, 279), (2006.43, 236), (2006.51, 228), (2006.54, 193), (2006.63, 184), (2006.73, 180), (2006.76, 202),
    (2006.82, 228), (2006.86, 279), (2006.92, 297), (2006.95, 323), (2007.01, 310), (2007.08, 301), (2007.13, 271),
    (2007.17, 301), (2007.23, 297), (2007.39, 288), (2007.46, 262), (2007.52, 236), (2007.61, 232), (2007.65, 189),
    (2007.71, 163), (2007.83, 189), (2007.89, 228), (2007.93, 266), (2008.09, 232), (2008.21, 249), (2008.31, 262),
    (2008.35, 236), (2008.40, 249), (2008.53, 245), (2008.56, 202), (2008.62, 193), (2008.67, 171), (2008.71, 124),
    (2008.78, 167), (2008.88, 176), (2008.92, 228), (2008.97, 232), (2009.00, 284), (2009.07, 305), (2009.11, 318),
    (2009.15, 305), (2009.19, 279), (2009.26, 275), (2009.30, 228), (2009.35, 202), (2009.45, 145), (2009.53, 125),
    (2009.67, 119), (2009.72, 102), (2009.78, 115), (2009.82, 158), (2009.89, 184), (2009.92, 232), (2010.08, 228),
    (2010.22, 249), (2010.35, 219), (2010.41, 215), (2010.44, 180), (2010.49, 163), (2010.55, 150), (2010.60, 119),
    (2010.65, 137), (2010.69, 158), (2010.74, 167), (2010.79, 193), (2010.83, 202), (2010.88, 228), (2010.93, 236),
    (2010.98, 262), (2011.02, 266), (2011.07, 258), (2011.11, 228), (2011.21, 210), (2011.28, 202), (2011.32, 184),
    (2011.37, 150), (2011.42, 115), (2011.47, 105), (2011.51, 111), (2011.56, 119), (2011.60, 141), (2011.66, 158),
    (2011.72, 180), (2011.80, 174), (2011.93, 182), (2011.97, 184),
]

# delta13C-DIC (permil)
d13c_raw = [
    (1996.10, -13.17), (1996.11, -13.92), (1996.20, -13.62), (1996.34, -12.10), (1996.36, -12.30), (1996.50, -12.10),
    (1996.52, -10.17), (1996.54, -11.40), (1996.70, -10.70), (1996.85, -13.80), (1996.86, -14.80), (1996.90, -13.90),
    (1996.95, -14.60), (1997.00, -14.10), (1997.40, -13.80), (1997.41, -12.70), (1997.43, -14.30), (1997.52, -12.90),
    (1997.54, -12.40), (1997.55, -14.30), (1997.62, -12.90), (1997.78, -12.80), (1997.79, -11.50), (1997.80, -13.70),
    (1998.05, -13.70), (1998.06, -14.10), (1998.30, -13.80), (1998.33, -13.60), (1998.34, -14.05), (1998.55, -13.80),
    (1999.12, -14.10), (1999.13, -14.45), (1999.18, -13.90), (1999.22, -13.60), (1999.28, -13.20), (1999.30, nan),
    (2002.04, -12.79), (2002.07, -13.55), (2002.11, -13.09), (2002.14, -11.20), (2002.16, -14.23), (2002.18, -12.18),
    (2002.22, -13.24), (2002.25, -12.18), (2002.28, -13.09), (2002.33, -12.48), (2002.36, -13.09), (2002.41, -11.92),
    (2002.44, -12.33), (2002.47, -14.27), (2002.50, -12.64), (2002.52, -12.18), (2002.56, -12.48), (2002.60, -12.94),
    (2002.64, -10.29), (2002.66, -13.39), (2002.69, -12.48), (2002.71, -12.94), (2002.75, -12.64), (2002.78, -13.09),
    (2002.80, -12.71), (2002.83, -13.43), (2002.87, -14.30), (2002.89, -13.62), (2002.93, -13.09), (2002.96, -14.30),
    (2002.99, -14.30), (2003.02, -14.91), (2003.04, -14.45), (2003.07, -14.91), (2003.09, -14.08), (2003.12, -13.92),
    (2003.15, -14.45), (2003.18, -13.09), (2003.21, -13.62), (2003.25, -13.39), (2003.28, -13.09), (2003.31, -11.92),
    (2003.34, -12.48), (2003.37, -12.33), (2003.40, -12.18), (2003.44, -12.03), (2003.47, -12.33), (2003.50, -11.88),
    (2003.53, -12.18), (2003.56, -11.73), (2003.61, -10.40), (2003.68, -10.67), (2003.73, -11.73), (2003.77, -13.55),
    (2003.82, -13.39), (2003.87, -12.94), (2003.93, -12.41), (2003.99, -13.09), (2004.04, -13.85), (2004.09, -12.64),
    (2004.15, -13.09), (2004.25, -12.03), (2004.28, -9.91), (2004.31, -11.73), (2004.35, -10.44), (2004.39, -12.41),
    (2004.42, -10.82), (2004.47, -12.03), (2004.50, -10.97), (2004.53, -10.06), (2004.56, -11.58), (2004.59, -8.02),
    (2004.63, -10.06), (2004.66, -11.12), (2004.69, -9.23), (2004.72, -10.67), (2004.75, -11.27), (2004.80, -11.42),
    (2004.85, -12.03), (2004.88, -13.09), (2004.91, -13.62), (2004.95, -13.09), (2005.00, -13.39), (2005.06, -13.24),
    (2005.10, -13.09), (2005.14, -13.39), (2005.20, -12.64), (2005.25, -13.55), (2005.29, -12.48), (2005.35, -12.94),
    (2005.40, -12.03), (2005.45, -12.33), (2005.51, -14.30), (2005.54, -12.79), (2005.57, -12.18), (2005.61, -9.72),
    (2005.65, -11.88), (2005.69, -11.58), (2005.73, -12.18), (2005.80, -12.64), (2005.84, -13.09), (2005.88, -14.00),
    (2005.92, -9.98), (2005.95, -12.64), (2005.99, -13.24), (2006.03, -13.70), (2006.08, -13.39), (2006.13, -12.94),
    (2006.18, -13.70), (2006.22, -13.09), (2006.27, -13.55), (2006.32, -13.09), (2006.37, -12.64), (2006.43, -12.33),
    (2006.47, -11.88), (2006.52, -9.83), (2006.56, -12.03), (2006.60, -10.82), (2006.64, -12.03), (2006.68, -12.64),
    (2006.71, -11.58), (2006.78, -11.12), (2006.81, -11.73), (2006.84, -12.48), (2006.87, -13.09), (2006.93, -14.00),
    (2006.97, -13.39), (2007.02, -13.70), (2007.06, -13.09), (2007.11, -13.39), (2007.16, -13.09), (2007.19, -13.96),
    (2007.23, -13.09), (2007.28, -12.64), (2007.35, -12.03), (2007.40, -11.58), (2007.44, -11.88), (2007.48, -11.27),
    (2007.54, -11.73), (2007.59, -11.05), (2007.63, -11.58), (2007.69, -10.89), (2007.73, -11.73), (2007.78, -11.27),
    (2007.82, -11.88), (2007.86, -12.94), (2007.90, -12.48), (2007.95, -13.09), (2007.99, -12.33), (2008.04, -13.09),
    (2008.09, -12.64), (2008.14, -13.24), (2008.20, -13.70), (2008.24, -13.09), (2008.29, -12.64), (2008.36, -11.88),
    (2008.41, -12.33), (2008.46, -11.73), (2008.50, -11.42), (2008.55, -10.52), (2008.60, -11.12), (2008.64, -10.67),
    (2008.69, -11.42), (2008.74, -11.20), (2008.79, -12.33), (2008.83, -13.09), (2008.88, -12.03), (2008.93, -14.15),
    (2008.98, -13.09), (2009.02, -13.55), (2009.08, -13.39), (2009.13, -13.09), (2009.18, -12.64), (2009.24, -12.33),
    (2009.29, -12.03), (2009.34, -11.58), (2009.37, -10.97), (2009.42, -9.23), (2009.46, -10.52), (2009.51, -11.12),
    (2009.55, -10.36), (2009.59, -9.38), (2009.62, -9.30), (2009.69, -9.08), (2009.74, -9.91), (2009.78, -10.82),
    (2009.83, -10.06), (2009.88, -11.27), (2009.93, -12.03), (2009.97, -12.94), (2010.02, -11.88), (2010.07, -12.33),
    (2010.12, -11.73), (2010.16, -13.09), (2010.21, -12.03), (2010.26, -11.73), (2010.31, -11.12), (2010.35, -10.67),
    (2010.38, -9.30), (2010.43, -10.06), (2010.48, -9.61), (2010.51, -9.15), (2010.55, -9.83), (2010.58, -9.53),
    (2010.62, -10.06), (2010.67, -10.67), (2010.71, -11.12), (2010.76, -11.42), (2010.81, -11.88), (2010.88, -14.38),
    (2010.90, -13.70), (2010.94, -13.09), (2010.98, -13.55), (2011.03, -12.64), (2011.07, -13.70), (2011.11, -12.48),
    (2011.15, -12.94), (2011.20, -12.03), (2011.25, -11.42), (2011.30, -10.67), (2011.34, -9.91), (2011.38, -9.30),
    (2011.42, -9.53), (2011.46, -8.92), (2011.51, -9.68), (2011.55, -9.15), (2011.60, -8.77), (2011.63, -10.44),
    (2011.68, -10.97), (2011.72, -10.59), (2011.77, -11.42), (2011.84, -11.12), (2011.90, -11.73), (2011.94, -10.97),
    (2011.96, -11.27),
]
d13c_avg = [
    (1996.09, -13.62), (1996.34, -13.51), (1996.36, -12.26), (1996.52, -12.11), (1996.53, -11.60), (1996.63, -11.20),
    (1996.67, -11.12), (1996.69, -10.63), (1996.79, -11.40), (1996.81, -12.20), (1996.83, -13.00), (1996.85, -13.73),
    (1996.91, -13.77), (1996.94, -14.15), (1997.15, -14.45), (1997.24, -14.47), (1997.28, -14.30), (1997.32, -14.15),
    (1997.36, -14.00), (1997.39, -13.85), (1997.41, -13.36), (1997.55, -12.94), (1997.61, -12.88), (1997.69, -12.94),
    (1997.74, -12.83), (1997.79, -12.33), (1997.80, -12.85), (1998.00, -13.51), (1998.05, -13.62), (1998.07, -14.00),
    (1998.31, -13.92), (1998.32, -13.77), (1998.56, -14.09), (1998.70, -13.97), (1998.85, -13.85), (1999.00, -13.72),
    (1999.13, -14.19), (1999.19, -14.08), (1999.29, -13.81), (2002.05, -13.51), (2002.12, -13.43), (2002.16, -13.30),
    (2002.18, -13.47), (2002.28, -13.09), (2002.39, -12.56), (2002.43, -12.50), (2002.48, -12.60), (2002.63, -12.33),
    (2002.68, -12.26), (2002.75, -12.33), (2002.82, -12.41), (2002.85, -12.67), (2002.88, -13.39), (2002.98, -13.81),
    (2003.04, -13.85), (2003.07, -14.15), (2003.12, -14.30), (2003.17, -14.45), (2003.19, -14.11), (2003.33, -13.62),
    (2003.43, -13.09), (2003.47, -12.75), (2003.52, -12.18), (2003.60, -11.92), (2003.61, -11.50), (2003.73, -11.39),
    (2003.79, -11.77), (2003.88, -12.11), (2003.94, -12.52), (2004.04, -13.09), (2004.07, -13.43), (2004.13, -13.51),
    (2004.18, -13.36), (2004.21, -13.05), (2004.31, -12.33), (2004.36, -11.88), (2004.44, -11.35), (2004.51, -11.12),
    (2004.61, -10.86), (2004.66, -10.82), (2004.74, -10.86), (2004.77, -11.24), (2004.87, -11.27), (2004.89, -11.73),
    (2004.91, -12.18), (2004.94, -12.64), (2005.00, -12.71), (2005.04, -13.02), (2005.06, -13.17), (2005.20, -13.24),
    (2005.26, -13.20), (2005.35, -13.30), (2005.40, -12.41), (2005.48, -12.37), (2005.51, -12.60), (2005.61, -11.95),
    (2005.69, -12.26), (2005.78, -11.92), (2005.84, -11.73), (2005.88, -12.18), (2005.92, -12.45), (2005.94, -12.86),
    (2005.99, -12.94), (2006.02, -13.24), (2006.08, -13.28), (2006.11, -13.41), (2006.18, -13.24), (2006.27, -13.17),
    (2006.33, -12.98), (2006.43, -12.56), (2006.49, -12.52), (2006.51, -12.14), (2006.55, -11.77), (2006.62, -11.73),
    (2006.65, -11.30), (2006.71, -11.24), (2006.76, -11.50), (2006.81, -11.80), (2006.90, -12.22), (2006.93, -13.02),
    (2007.02, -13.28), (2007.09, -13.39), (2007.16, -13.51), (2007.22, -13.56), (2007.25, -13.20), (2007.35, -13.17),
    (2007.38, -12.37), (2007.44, -12.26), (2007.49, -11.73), (2007.54, -11.30), (2007.60, -11.25), (2007.69, -11.27),
    (2007.80, -11.69), (2007.86, -11.73), (2007.90, -12.18), (2007.93, -12.83), (2008.04, -12.86), (2008.07, -13.24),
    (2008.20, -13.30), (2008.29, -12.94), (2008.39, -12.60), (2008.45, -12.56), (2008.48, -12.18), (2008.55, -12.14),
    (2008.56, -11.31), (2008.67, -11.20), (2008.75, -11.21), (2008.79, -11.73), (2008.86, -11.80), (2008.91, -12.41),
    (2008.93, -13.24), (2009.02, -13.32), (2009.09, -13.41), (2009.18, -13.13), (2009.26, -12.98), (2009.31, -12.79),
    (2009.37, -12.48), (2009.42, -12.37), (2009.43, -11.42), (2009.50, -11.39), (2009.53, -10.89), (2009.61, -10.40),
    (2009.69, -10.36), (2009.72, -10.21), (2009.75, -10.17), (2009.78, -10.29), (2009.86, -10.33), (2009.89, -10.59),
    (2009.93, -10.97), (2009.97, -11.69), (2010.03, -11.73), (2010.05, -12.26), (2010.11, -12.30), (2010.14, -12.64),
    (2010.19, -12.79), (2010.24, -12.64), (2010.29, -12.41), (2010.32, -11.80), (2010.37, -11.42), (2010.39, -10.93),
    (2010.43, -10.82), (2010.48, -10.52), (2010.51, -10.36), (2010.57, -10.06), (2010.60, -9.80), (2010.63, -9.83),
    (2010.67, -10.10), (2010.70, -10.52), (2010.73, -11.12), (2010.77, -11.27), (2010.82, -11.39), (2010.86, -12.41),
    (2010.90, -12.48), (2010.94, -13.09), (2010.98, -13.24), (2011.01, -13.62), (2011.07, -13.70), (2011.11, -13.39),
    (2011.19, -13.36), (2011.24, -12.94), (2011.27, -12.48), (2011.32, -11.73), (2011.37, -11.20), (2011.39, -10.52),
    (2011.44, -9.95), (2011.51, -9.68), (2011.57, -9.76), (2011.62, -9.83), (2011.65, -10.06), (2011.68, -10.63),
    (2011.72, -11.05), (2011.77, -10.82), (2011.93, -10.86), (2011.95, -10.97), (2011.97, -10.97),
]

right_ticks = [-400, -200, 0, 200, 400, 600]
FONT = "Liberation Sans"
PLAIN = "return String(Math.round(tick * 10) / 10);"


def make_panel(title, raw, avg, ylo, yhi, yticks, h, top, bottom, left, border,
               q_color="#3a3a3a", q_width=1.1, dark_lines=()):
    p = figure(width=1006, height=h, x_range=Range1d(1995, 2012), y_range=Range1d(ylo, yhi),
               output_backend="svg", toolbar_location=None, title=None,
               min_border_left=left, min_border_right=47, min_border_top=top, min_border_bottom=bottom)
    p.extra_y_ranges = {"q": Range1d(-400, 600)}
    p.outline_line_color = None
    p.background_fill_color = "white"
    p.border_fill_color = "white"
    p.styles = {"outline": "2px solid " + border, "outline-offset": "-2px"}
    # an empty title row next to the plot area lifts the real title upwards
    p.add_layout(Title(text=" ", text_font_size="2px", standoff=18), "above")
    p.add_layout(Title(text=title, align="center", text_font=FONT, text_font_size="15px",
                       text_font_style="bold", text_color="#000000", standoff=8), "above")

    xa = p.xaxis[0]
    xa.ticker = SingleIntervalTicker(interval=1, num_minor_ticks=6)
    xa.axis_line_color = "#303030"
    xa.major_tick_line_color = "#303030"
    xa.major_tick_in = 4
    xa.major_tick_out = 5
    xa.minor_tick_line_color = "#303030"
    xa.minor_tick_in = 4
    xa.minor_tick_out = 0
    xa.major_label_text_font = FONT
    xa.major_label_text_font_size = "16px"
    xa.major_label_text_color = "#111111"
    xa.major_label_standoff = 5

    ya = p.yaxis[0]
    ya.ticker = FixedTicker(ticks=yticks)
    ya.formatter = CustomJSTickFormatter(code=PLAIN)
    ya.axis_line_color = "#303030"
    ya.major_tick_line_color = "#303030"
    ya.major_tick_in = 0
    ya.major_tick_out = 6
    ya.minor_tick_line_color = None
    ya.major_label_text_font = FONT
    ya.major_label_text_font_size = "16px"
    ya.major_label_text_color = "#111111"
    ya.major_label_standoff = 6

    p.xgrid.visible = False
    p.ygrid.ticker = ya.ticker
    p.ygrid.grid_line_color = "#4a4a4a"
    p.ygrid.grid_line_width = 1
    p.add_layout(Span(location=yhi, dimension="width", line_color="#000000", line_width=2))
    for loc in dark_lines:
        p.add_layout(Span(location=loc, dimension="width", line_color="#000000", line_width=1.5))

    ra = LinearAxis(y_range_name="q", ticker=FixedTicker(ticks=right_ticks),
                    formatter=CustomJSTickFormatter(code=PLAIN))
    ra.axis_line_color = "#b8b8b8"
    ra.major_tick_line_color = "#b8b8b8"
    ra.major_tick_in = 0
    ra.major_tick_out = 5
    ra.minor_tick_line_color = None
    ra.major_label_text_font = FONT
    ra.major_label_text_font_size = "15px"
    ra.major_label_text_color = "#111111"
    ra.major_label_standoff = 4
    p.add_layout(ra, "right")

    qx = [a for a, b in q_series]
    qy = [b for a, b in q_series]
    p.line(qx, qy, y_range_name="q", line_color=q_color, line_width=q_width)
    rx = [a for a, b in raw]
    ry = [b for a, b in raw]
    p.line(rx, ry, line_color="#ff0000", line_width=0.8)
    bx = [a for a, b in avg]
    by = [b for a, b in avg]
    p.step(bx, by, mode="after", line_color="#0000ff", line_width=3.5)
    return p


p1 = make_panel("POC µM", poc_raw, poc_avg, 0, 2500, [0, 500, 1000, 1500, 2000, 2500],
                431, 60, 62, 63, "#8a8a8a")
p2 = make_panel("DOC mM", doc_raw, doc_avg, 0.3, 1.0, [0.3, 0.4, 0.5, 0.6, 0.7, 0.8, 0.9, 1.0],
                434, 47, 73, 56, "#8a8a8a", q_color="#555555", q_width=0.8, dark_lines=(0.6, 0.8))
p3 = make_panel("CO₂ µM", co2_raw, co2_avg, 0, 800, [0, 100, 200, 300, 400, 500, 600, 700, 800],
                431, 58, 65, 63, "#1a1a1a")
p4 = make_panel("δ¹³C-DIC ‰", d13c_raw, d13c_avg, -15, -8, [-15, -14, -13, -12, -11, -10, -9, -8],
                420, 57, 55, 62, "#8a8a8a")

layout = column(Spacer(width=1006, height=2), p1, p2, p3, p4, spacing=5)
open("out.html", "w").write(file_html(layout, INLINE))
